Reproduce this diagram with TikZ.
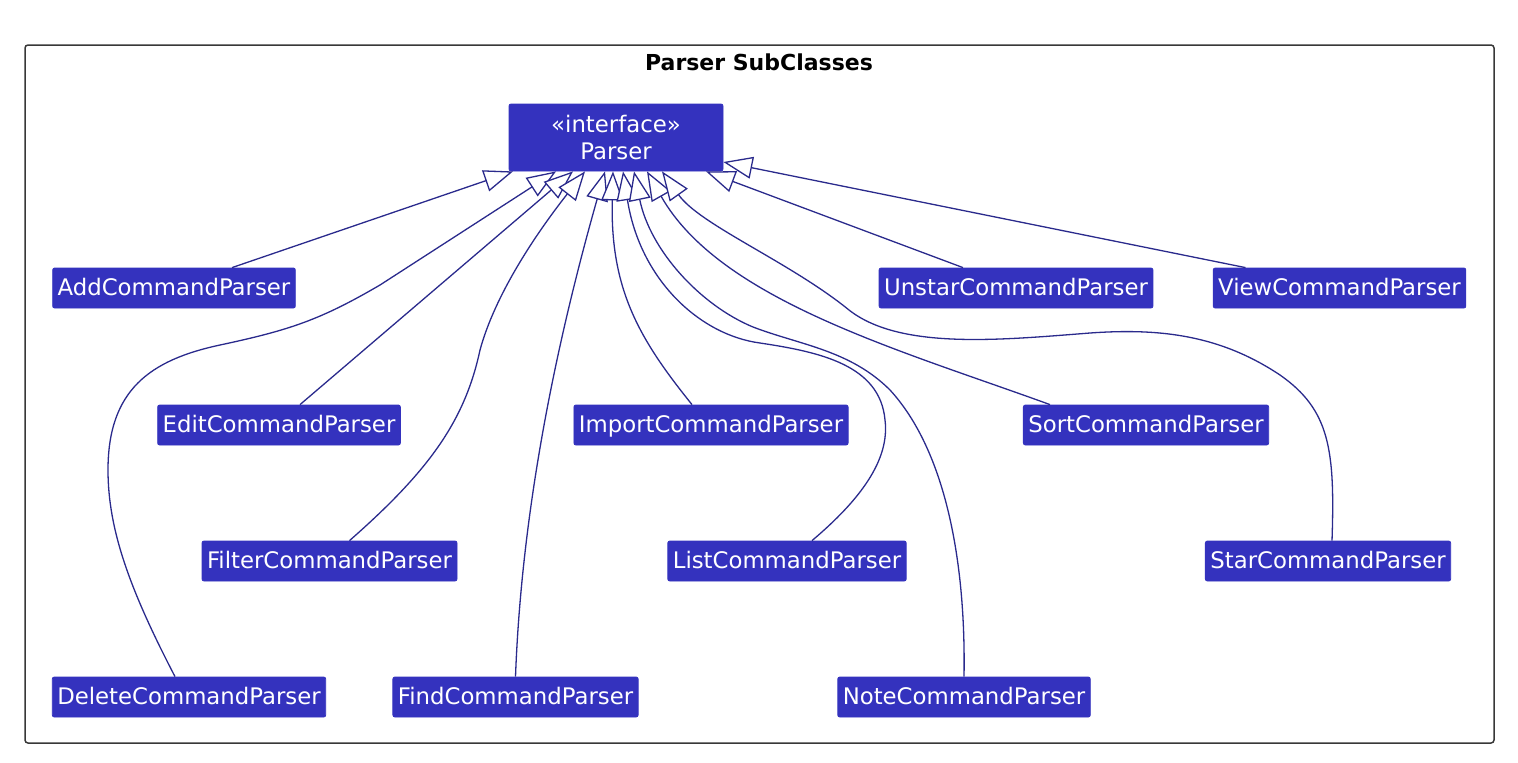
\documentclass[tikz,border=0pt]{standalone}
\usepackage{fontspec}
\setmainfont{DejaVu Sans}
\usepackage{tikz}
\usetikzlibrary{arrows.meta,positioning}
\definecolor{clsfill}{RGB}{52,50,190}
\definecolor{edgeblue}{RGB}{42,42,140}
\definecolor{framegray}{RGB}{56,56,56}
\tikzset{
  cls/.style={draw=clsfill, fill=clsfill, text=white, rounded corners=1pt,
    minimum height=20pt, inner xsep=2.5pt, inner ysep=0pt,
    text height=9.2pt, text depth=1.5pt,
    font=\fontsize{11.4}{13.5}\selectfont},
  iface/.style={cls, text height=, text depth=, minimum width=107pt,
    minimum height=33.5pt, align=center},
  inherit/.style={draw=edgeblue, line width=0.65pt,
    -{Triangle[fill=white, length=14.5pt, width=11pt]}}
}

\begin{document}
\begin{tikzpicture}[x=0.5pt, y=-0.5pt]
\useasboundingbox (0,0) rectangle (1518,762);

%====================================================
% PACKAGE FRAME
%====================================================
\draw[framegray, line width=0.75pt, rounded corners=1.5pt] (25,45) rectangle (1494,743);
\node[font=\bfseries\fontsize{11}{13}\selectfont] (title) at (759,62) {Parser SubClasses};

%====================================================
% CLASSES
%====================================================
\node[iface] (parser) at (616,137.5) {«interface»\\Parser};

\node[cls] (add)    at (174,288)    {AddCommandParser};
\node[cls] (unstar) at (1016,288)   {UnstarCommandParser};
\node[cls] (view)   at (1339.5,288) {ViewCommandParser};

\node[cls] (edit)   at (279,425)    {EditCommandParser};
\node[cls] (import) at (711,425)    {ImportCommandParser};
\node[cls] (sort)   at (1146,425)   {SortCommandParser};

\node[cls] (filter) at (329.5,561)  {FilterCommandParser};
\node[cls] (list)   at (787,561)    {ListCommandParser};
\node[cls] (star)   at (1328,561)   {StarCommandParser};

\node[cls] (delete) at (189,697)    {DeleteCommandParser};
\node[cls] (find)   at (515.5,697)  {FindCommandParser};
\node[cls] (note)   at (964,697)    {NoteCommandParser};

%====================================================
% REALIZATIONS
%====================================================
\draw[inherit] ([xshift=29pt]add.north) -- ([xshift=-51.5pt]parser.south);
\draw[inherit] ([xshift=-7pt]delete.north) .. controls (130,590) and (108,530) .. (108,470)
  .. controls (108,390) and (150,360) .. (220,345)
  .. controls (290,330) and (320,320) .. (380,285) -- ([xshift=-30pt]parser.south);
\draw[inherit] ([xshift=10.5pt]edit.north) -- ([xshift=-21.5pt]parser.south);
\draw[inherit] ([xshift=10pt]filter.north) .. controls (430,470) and (465,420) .. (480,350)
  .. controls (495,295) and (535,235) .. ([xshift=-15.5pt]parser.south);
\draw[inherit] (find.north) .. controls (522,500) and (560,330) .. ([xshift=-5.5pt]parser.south);
\draw[inherit] ([xshift=-9.5pt]import.north) .. controls (640,340) and (610,290) .. ([xshift=-1.5pt]parser.south);
\draw[inherit] ([xshift=12.5pt]list.north) .. controls (860,500) and (890,460) .. (885,420)
  .. controls (880,365) and (820,352) .. (760,343)
  .. controls (700,335) and (640,280) .. ([xshift=3.5pt]parser.south);
\draw[inherit] (note.north) .. controls (966,560) and (945,450) .. (890,390)
  .. controls (850,350) and (800,345) .. (753,327)
  .. controls (700,305) and (650,250) .. ([xshift=9pt]parser.south);
\draw[inherit] ([xshift=-48pt]sort.north) .. controls (900,350) and (720,300) .. ([xshift=15.5pt]parser.south);
\draw[inherit] ([xshift=2pt]star.north) .. controls (1335,450) and (1330,410) .. (1280,375)
  .. controls (1220,335) and (1160,328) .. (1090,333)
  .. controls (1000,340) and (900,350) .. (849,310)
  .. controls (790,262) and (700,225) .. ([xshift=23pt]parser.south);
\draw[inherit] ([xshift=-26.5pt]unstar.north) -- ([xshift=45pt]parser.south);
\draw[inherit] ([xshift=-47pt]view.north) -- ([yshift=-12.25pt]parser.east);
\end{tikzpicture}
\end{document}
